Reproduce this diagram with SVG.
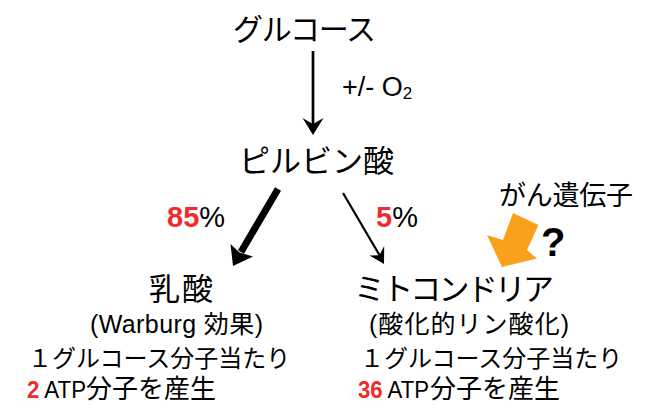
<svg xmlns="http://www.w3.org/2000/svg" width="646" height="405" viewBox="0 0 646 405">
<style>
text{font-family:"Liberation Sans","Noto Sans CJK JP",sans-serif;fill:#000}
.jp{font-family:"Noto Sans CJK JP","Liberation Sans",sans-serif}
.red{fill:#EE2C2C;font-weight:bold}
.ln{stroke:#000;fill:none}
.hd{fill:#000;stroke:none}
</style>
<rect width="646" height="405" fill="#fff"/>
<g id="connectors">
<line class="ln" x1="313" y1="51" x2="313" y2="126" stroke-width="2.7"/>
<path class="hd" d="M313,135 L302.5,118 L313,124 L323.5,118 Z"/>
<line class="ln" x1="278" y1="189" x2="241" y2="252" stroke-width="7"/>
<path class="hd" d="M233,266 L230.5,244 L239.5,252.5 L253,256.5 Z"/>
<line class="ln" x1="343" y1="193" x2="380" y2="256" stroke-width="2.2"/>
<path class="hd" d="M384,264 L369.5,255.5 L379.4,255.3 L384.2,246 Z"/>
<polygon fill="#F9A11D" points="513,213 538.5,225 527,250 537,258.5 502,267 487,235 503,240"/>
</g>
<g id="glucose"><text class="jp" x="233" y="40" font-size="30" textLength="143">グルコース</text></g>
<g id="oxygen"><text x="342" y="96" font-size="27">+/- O<tspan font-size="17" dy="3">2</tspan></text></g>
<g id="pyruvate"><text class="jp" x="239" y="172" font-size="31" textLength="155">ピルビン酸</text></g>
<g id="pct85"><text x="167" y="227" font-size="29"><tspan class="red">85</tspan>%</text></g>
<g id="pct5"><text x="376" y="227" font-size="29"><tspan class="red">5</tspan>%</text></g>
<g id="oncogene"><text class="jp" x="499" y="205" font-size="27" textLength="134">がん遺伝子</text>
<text x="541" y="256" font-size="40" font-weight="bold">?</text></g>
<g id="lactate">
<text class="jp" x="149" y="300" font-size="31" textLength="64">乳酸</text>
<text x="90" y="333" font-size="25" textLength="173">(Warburg 効果)</text>
<text class="jp" x="28" y="367" font-size="24">１グルコース分子当たり</text>
<text x="27" y="398" font-size="24" textLength="59" lengthAdjust="spacingAndGlyphs"><tspan class="red">2</tspan> ATP</text>
<text class="jp" x="86" y="398" font-size="26">分子を産生</text>
</g>
<g id="mitochondria">
<text class="jp" x="354" y="300" font-size="31" textLength="200">ミトコンドリア</text>
<text x="369" y="333" font-size="25" textLength="200">(酸化的リン酸化)</text>
<text class="jp" x="360" y="367" font-size="24">１グルコース分子当たり</text>
<text x="358" y="398" font-size="24" textLength="71" lengthAdjust="spacingAndGlyphs"><tspan class="red">36</tspan> ATP</text>
<text class="jp" x="430" y="398" font-size="26">分子を産生</text>
</g>
</svg>
